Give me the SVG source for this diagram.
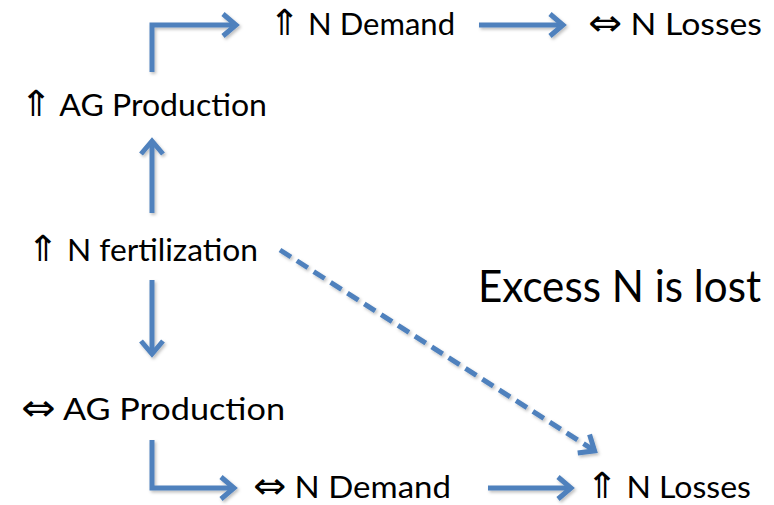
<svg xmlns="http://www.w3.org/2000/svg" width="774" height="505" viewBox="0 0 774 505">
<style>
.lbl{font-family:Lato,"DejaVu Sans",sans-serif;font-size:30px;fill:#000}
.big{font-family:Lato,"DejaVu Sans",sans-serif;font-size:44px;fill:#000}
.sym{font-family:"DejaVu Sans",sans-serif;font-size:36px}
.con{fill:none;stroke:#4F81BD;stroke-width:5;stroke-linejoin:miter;marker-end:url(#arr)}
.dash{stroke-dasharray:13 7}
</style>
<defs>
<marker id="arr" viewBox="-20 -15 30 30" markerWidth="30" markerHeight="30" refX="0" refY="0" orient="auto" markerUnits="userSpaceOnUse">
<path d="M-13,-11 L0,0 L-13,11" fill="none" stroke="#4F81BD" stroke-width="5" stroke-linejoin="miter" stroke-dasharray="none"/>
</marker>
<filter id="sh" x="-10%" y="-10%" width="130%" height="130%">
<feDropShadow dx="1.5" dy="2" stdDeviation="1.5" flood-color="#000" flood-opacity="0.25"/>
</filter>
</defs>
<g id="connectors" filter="url(#sh)">
<path class="con" d="M152,72 L152,25 L236,25"/>
<path class="con" d="M479,25 L563,25"/>
<path class="con" d="M152,213 L152,141"/>
<path class="con" d="M152,280 L152,354"/>
<path class="con dash" d="M280,250 L594.6,450.8"/>
<path class="con" d="M152,440 L152,488 L234,488"/>
<path class="con" d="M488,488 L571,488"/>
</g>
<g id="n-demand-up"><text class="lbl" x="269" y="35" textLength="186" lengthAdjust="spacingAndGlyphs"><tspan class="sym">⇑</tspan> N Demand</text></g>
<g id="n-losses-eq"><text class="lbl" x="588" y="35" textLength="174" lengthAdjust="spacingAndGlyphs"><tspan class="sym">⇔</tspan> N Losses</text></g>
<g id="ag-prod-up"><text class="lbl" x="20" y="116" textLength="247" lengthAdjust="spacingAndGlyphs"><tspan class="sym">⇑</tspan> AG Production</text></g>
<g id="n-fert"><text class="lbl" x="27" y="261" textLength="231" lengthAdjust="spacingAndGlyphs"><tspan class="sym">⇑</tspan> N fertilization</text></g>
<g id="excess"><text class="big" x="478" y="302" textLength="283" lengthAdjust="spacingAndGlyphs">Excess N is lost</text></g>
<g id="ag-prod-eq"><text class="lbl" x="21" y="420" textLength="264" lengthAdjust="spacingAndGlyphs"><tspan class="sym">⇔</tspan> AG Production</text></g>
<g id="n-demand-eq"><text class="lbl" x="253" y="498" textLength="198" lengthAdjust="spacingAndGlyphs"><tspan class="sym">⇔</tspan> N Demand</text></g>
<g id="n-losses-up"><text class="lbl" x="586" y="498" textLength="165" lengthAdjust="spacingAndGlyphs"><tspan class="sym">⇑</tspan> N Losses</text></g>
</svg>
